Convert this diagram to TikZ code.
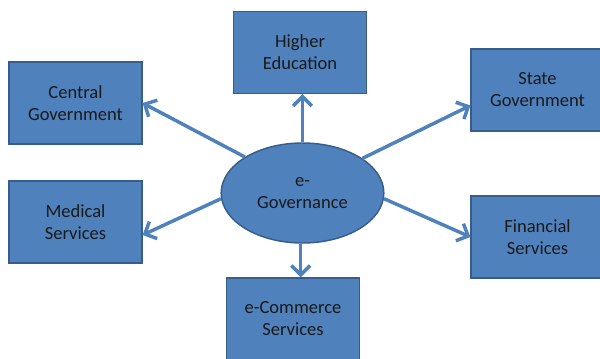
\documentclass[tikz,border=0pt]{standalone}
\usepackage{fontspec}
\setmainfont{Carlito}
\usetikzlibrary{shapes.geometric,arrows.meta}
\definecolor{boxfill}{HTML}{4F81BD}
\definecolor{boxline}{HTML}{385D8A}
\definecolor{txt}{HTML}{1A1A1A}

\begin{document}
\begin{tikzpicture}[x=0.75pt,y=0.75pt,yscale=-1,xscale=1,
        box/.style={draw=boxline,fill=boxfill,line width=1.1pt,minimum width=99.5pt,minimum height=61.5pt,inner sep=0pt,align=center,text=txt,font=\fontsize{13.9}{16.5}\selectfont},
        hub/.style={ellipse,draw=boxline,fill=boxfill,line width=1.1pt,minimum width=122pt,minimum height=75pt,inner sep=0pt,align=center,text=txt,font=\fontsize{13.9}{16.5}\selectfont},
        link/.style={draw=boxfill,line width=2.6pt,-{Straight Barb[length=7pt,width=14pt,line width=2.6pt]}}]
        \useasboundingbox (0,0) rectangle (600,358);
        
        %Shape: Ellipse [id:hub]
        \node (gov) at (302.5,193) [hub] {e-\\Governance};
        
        %Shape: Rectangle [id:boxes]
        \node (cgov) at (75.5,103) [box] {Central\\Government};
        \node (hedu) at (300,52.5) [box] {Higher\\Education};
        \node (sgov) at (537.5,90) [box] {State\\Government};
        \node (med) at (75.5,222) [box] {Medical\\Services};
        \node (ecom) at (293,319) [box] {e-Commerce\\Services};
        \node (fin) at (537.5,237) [box] {Financial\\Services};
        
        %Straight Lines [id:arrows]
        \draw [link] (gov.148) -- (cgov.east);
        \draw [link] (gov.north) -- (gov.north |- hedu.south);
        \draw [link] (gov.30) -- (sgov.193);
        \draw [link] (gov.184) -- (med.349);
        \draw [link] (gov.356) -- (fin.west);
        \draw [link] (gov.268) -- (gov.268 |- ecom.north);
        
\end{tikzpicture}
\end{document}
